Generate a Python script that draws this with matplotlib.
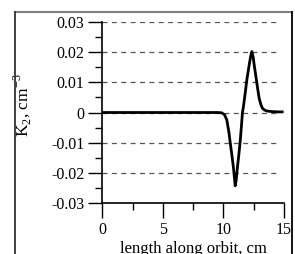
import matplotlib
matplotlib.use("Agg")
import matplotlib.pyplot as plt
from matplotlib.lines import Line2D

# curve: length along orbit (cm) vs K2 (cm^-3)
length_cm = [0.0, 2.0, 4.0, 6.0, 8.0, 9.5, 9.86, 10.1, 10.28, 10.45, 10.55,
             10.7, 10.83, 10.92, 10.97, 11.05, 11.16, 11.27, 11.38, 11.48,
             11.57, 11.65, 11.8, 11.93, 12.05, 12.15, 12.27, 12.35, 12.45,
             12.56, 12.66, 12.76, 12.86, 12.95, 13.1, 13.22, 13.4, 13.58,
             14.0, 14.5, 14.85]
k2 = [0.0, 0.0, 0.0, 0.0, 0.0, 0.0, -0.0001, -0.0008, -0.0025, -0.0065,
      -0.0097, -0.0142, -0.0184, -0.0222, -0.0243, -0.0225, -0.018, -0.014,
      -0.0097, -0.0048, 0.0, 0.0019, 0.0065, 0.0108, 0.0138, 0.0164, 0.019,
      0.0202, 0.0185, 0.0152, 0.0125, 0.0097, 0.007, 0.0047, 0.0025, 0.0014,
      0.0008, 0.0005, 0.0003, 0.0002, 0.0002]

x_ticks = [0, 5, 10, 15]
y_ticks = [-0.03, -0.02, -0.01, 0, 0.01, 0.02, 0.03]
y_tick_labels = ["-0.03", "-0.02", "-0.01", "0", "0.01", "0.02", "0.03"]
grid_levels = [-0.02, -0.01, 0, 0.01, 0.02, 0.03]

plt.rcParams["font.family"] = ["Liberation Serif", "DejaVu Serif"]
plt.rcParams["mathtext.fontset"] = "custom"
plt.rcParams["mathtext.rm"] = "Liberation Serif"

fig = plt.figure(figsize=(2.95, 2.54), dpi=100)
ax = fig.add_axes([102.3 / 295, 1 - 203 / 254, (284 - 102.3) / 295, (203 - 22) / 254])

for g in grid_levels:
    ax.plot([0, 14.6], [g, g], color="#555555", lw=0.9, ls=(0, (4, 3.5)), zorder=1)

ax.plot(length_cm, k2, color="black", lw=2.0, zorder=3)

ax.set_xlim(0, 15)
ax.set_ylim(-0.03, 0.03)
ax.set_xticks(x_ticks)
ax.set_xticks([2.5, 7.5, 12.5], minor=True)
ax.set_yticks(y_ticks)
ax.set_yticklabels(y_tick_labels)
ax.set_yticks([-0.025, -0.015, -0.005, 0.005, 0.015, 0.025], minor=True)
ax.tick_params(which="major", direction="out", length=10, width=1, labelsize=11.5, pad=3)
ax.tick_params(which="minor", direction="out", length=5, width=1)
ax.tick_params(axis="x", which="major", length=11)

for side in ["top", "right"]:
    ax.spines[side].set_visible(False)
for side in ["left", "bottom"]:
    ax.spines[side].set_linewidth(1.2)

ax.set_xlabel("length along orbit, cm", fontsize=12, labelpad=2)
ax.set_ylabel("K$_2$, cm$^{-3}$", fontsize=12.5)
ax.yaxis.set_label_coords(-0.375, 0.54)

# outer frame around the figure
fx0, fx1, fy1 = 15 / 295, 292 / 295, 1 - 12 / 254
fig.add_artist(Line2D([fx0, fx1], [fy1, fy1], color="#808080", lw=1.5, transform=fig.transFigure))
fig.add_artist(Line2D([fx0, fx0], [-0.1, fy1], color="#333333", lw=1.3, transform=fig.transFigure))
fig.add_artist(Line2D([fx1, fx1], [-0.1, fy1], color="black", lw=1.3, transform=fig.transFigure))

fig.savefig("out.png", dpi=100)
